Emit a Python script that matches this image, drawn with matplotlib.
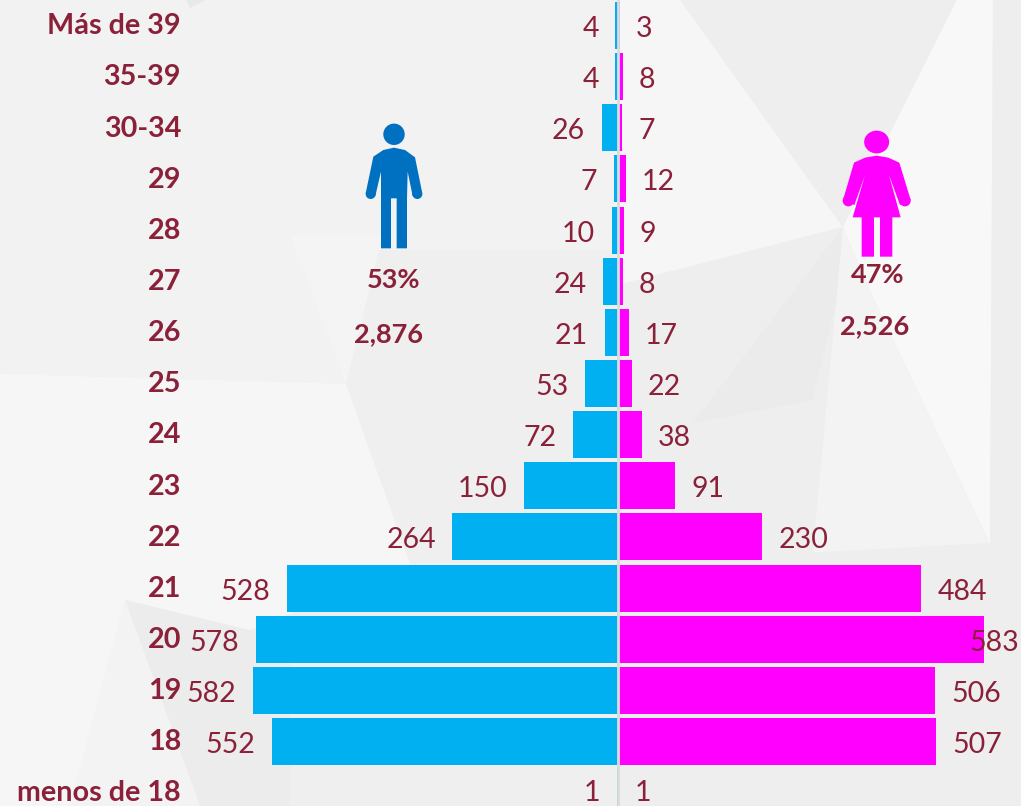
import matplotlib
matplotlib.use("Agg")
import matplotlib.pyplot as plt
from matplotlib.patches import Polygon, Circle, Ellipse

plt.rcParams['font.family'] = ['Lato', 'DejaVu Sans']

edades = ["Más de 39", "35-39", "30-34", "29", "28", "27", "26", "25", "24", "23",
          "22", "21", "20", "19", "18", "menos de 18"]
hombres = [4, 4, 26, 7, 10, 24, 21, 53, 72, 150, 264, 528, 578, 582, 552, 1]
mujeres = [3, 8, 7, 12, 9, 8, 17, 22, 38, 91, 230, 484, 583, 506, 507, 1]

AZUL = "#00B0F0"
ROSA = "#FF00FF"
VINO = "#8A2139"

# pixels of the picture for one person and for one row
PX = 0.627
X0 = 618
ROW = 51.14
Y0 = 25.5
W, H = 1021, 806

fig = plt.figure(figsize=(W / 100, H / 100), dpi=100)

# fondo and icons, in pixel coords
bg = fig.add_axes([0, 0, 1, 1])
bg.set_xlim(0, W)
bg.set_ylim(H, 0)
bg.axis("off")
bg.add_patch(Polygon([(0, 0), (W, 0), (W, H), (0, H)], color="#f2f2f2", lw=0))
fondo = [
    ([(186, 0), (205, 0), (190, 8)], "#e9e9e9"),
    ([(0, 374), (346, 384), (411, 566), (250, 630), (125, 600), (70, 806), (0, 806)], "#f6f6f6"),
    ([(290, 235), (385, 235), (346, 384)], "#f4f4f4"),
    ([(346, 384), (379, 250), (618, 250), (618, 806), (290, 806), (250, 630), (411, 566)], "#efefef"),
    ([(125, 600), (290, 640), (290, 806), (200, 806)], "#ececec"),
    ([(125, 600), (200, 806), (70, 806)], "#f3f3f3"),
    ([(618, 0), (680, 0), (843, 227), (618, 285)], "#f6f6f6"),
    ([(680, 0), (957, 0), (843, 227)], "#eeeeee"),
    ([(618, 285), (843, 227), (812, 563), (618, 580)], "#eeeeee"),
    ([(843, 227), (837, 300), (812, 400), (693, 423)], "#ebebeb"),
    ([(843, 227), (957, 0), (993, 0), (990, 543), (873, 297)], "#f8f8f8"),
    ([(843, 227), (873, 297), (988, 543), (812, 563)], "#f3f3f3"),
    ([(993, 0), (W, 0), (W, 560), (990, 543)], "#eeeeee"),
    ([(618, 563), (988, 543), (W, 560), (W, H), (618, H)], "#eeeeee"),
]
for pts, c in fondo:
    bg.add_patch(Polygon(pts, color=c, lw=0))

def man(p):
    return [(340 + a / 3, 100 + b / 3) for a, b in p]

def woman(p):
    return [(820 + a / 3, 110 + b / 3) for a, b in p]

c_man = "#0070C0"
bg.add_patch(Circle((394, 134.3), 10.7, color=c_man, lw=0))
bg.add_patch(Polygon(man([(100, 170), (130, 150), (162, 143), (195, 150), (225, 172), (247, 280),
                          (218, 288), (203, 215), (201, 295), (201, 445), (170, 445), (170, 295),
                          (153, 295), (153, 445), (123, 445), (123, 215), (106, 288), (77, 280)]),
                     color=c_man, lw=0))
bg.add_patch(Circle((340 + 232 / 3, 100 + 282 / 3), 5, color=c_man, lw=0))
bg.add_patch(Circle((340 + 92 / 3, 100 + 282 / 3), 5, color=c_man, lw=0))

bg.add_patch(Ellipse((820 + 170 / 3, 110 + 96 / 3), 25, 22.7, color=ROSA, lw=0))
bg.add_patch(Polygon(woman([(102, 158), (135, 143), (170, 137), (205, 143), (238, 158), (272, 270),
                            (240, 285), (207, 195), (242, 322), (217, 322), (217, 440), (180, 440),
                            (180, 322), (162, 322), (162, 440), (125, 440), (125, 322), (98, 322),
                            (135, 195), (103, 285), (69, 270)]),
                     color=ROSA, lw=0))
bg.add_patch(Circle((820 + 255 / 3, 110 + 272 / 3), 5.7, color=ROSA, lw=0))
bg.add_patch(Circle((820 + 85 / 3, 110 + 272 / 3), 5.7, color=ROSA, lw=0))

bg.text(394, 280, "53%", color=VINO, fontsize=19.5, fontweight="bold", ha="center", va="center")
bg.text(388, 334, "2,876", color=VINO, fontsize=19.5, fontweight="bold", ha="center", va="center")
bg.text(878, 275, "47%", color=VINO, fontsize=19.5, fontweight="bold", ha="center", va="center")
bg.text(875, 326, "2,526", color=VINO, fontsize=19.5, fontweight="bold", ha="center", va="center")

# the pyramid itself
ax = fig.add_axes([0, 0, 1, 1])
ax.patch.set_alpha(0)
ax.set_xlim(-X0 / PX, (W - X0) / PX)
ax.set_ylim((H - Y0) / ROW, -Y0 / ROW)
ax.axis("off")

ys = range(len(edades))
ax.barh(ys, [-v for v in hombres], height=0.92, color=AZUL, lw=0)
ax.barh(ys, mujeres, height=0.92, color=ROSA, lw=0)
ax.axvline(0, color="#dcdcdc", lw=2)

for i, e in enumerate(edades):
    ax.text((181 - X0) / PX, i + 0.015, e, color=VINO, fontsize=20.7, fontweight="bold",
            ha="right", va="center")
    # last row is right at the bottom edge
    dy = -0.5 if i == len(edades) - 1 else -2.5
    ax.annotate(str(hombres[i]), (-hombres[i], i), xytext=(-12, dy), textcoords="offset points",
                color=VINO, fontsize=20.5, ha="right", va="center")
    # the 583 label sits over the end of its bar
    dx = -10 if mujeres[i] == 583 else 11.5
    ax.annotate(str(mujeres[i]), (mujeres[i], i), xytext=(dx, dy), textcoords="offset points",
                color=VINO, fontsize=20.5, ha="left", va="center")

fig.savefig("out.png", dpi=100)
